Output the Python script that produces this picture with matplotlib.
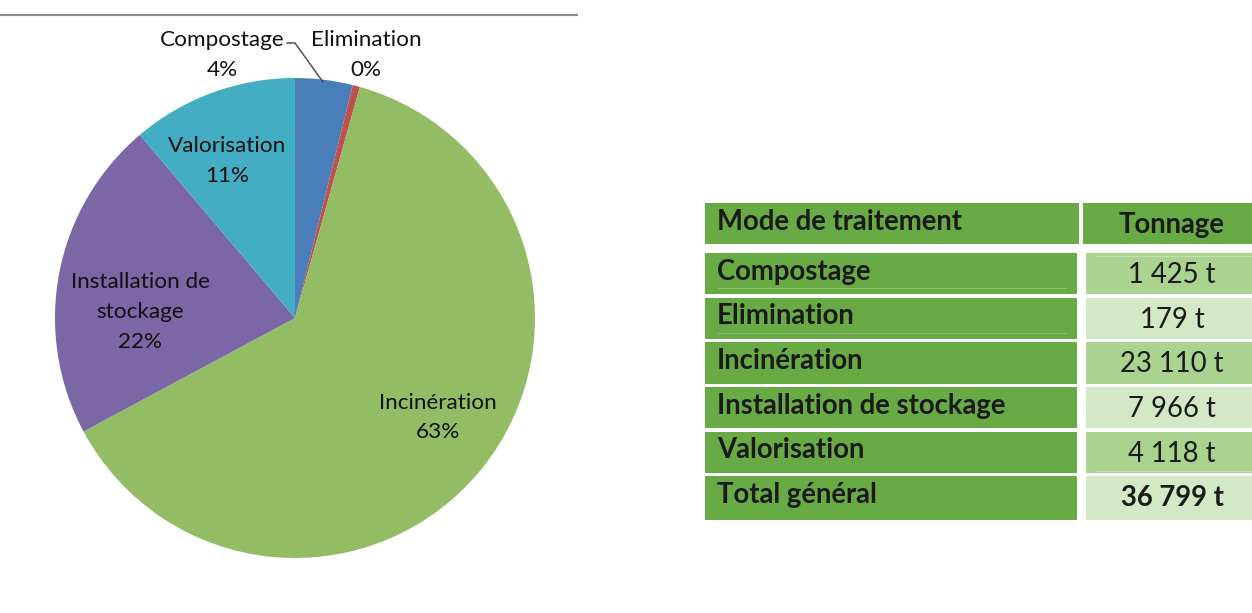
import matplotlib
matplotlib.use('Agg')
import matplotlib.pyplot as plt
from matplotlib.patches import Rectangle

plt.rcParams['font.family'] = ['Lato', 'DejaVu Sans']

# data
modes = ['Compostage', 'Elimination', 'Incinération', 'Installation de stockage', 'Valorisation']
tonnage = [1425, 179, 23110, 7966, 4118]
total = 36799
pie_labels = ['Compostage', 'Elimination', 'Incinération', 'Installation de\nstockage', 'Valorisation']
table_header = ['Mode de traitement', 'Tonnage']
total_label = 'Total général'

pie_colors = ['#4a7ebb', '#c0504d', '#93bd65', '#7b66a6', '#42adc3']
W, H = 1252, 613


def fmt_t(v):
    return '{:,}'.format(v).replace(',', ' ') + ' t'


fig = plt.figure(figsize=(W / 100, H / 100), dpi=100)

# pie, center (295, 318) px, radius 240 px
cx, cy, r = 295, 318, 240
pax = fig.add_axes([(cx - r) / W, (H - cy - r) / H, 2 * r / W, 2 * r / H])
pax.pie(tonnage, colors=pie_colors, startangle=90, counterclock=False, radius=1,
        wedgeprops=dict(linewidth=0))
pax.set_xlim(-1, 1)
pax.set_ylim(-1, 1)
pax.set_aspect('equal')
pax.axis('off')

# overlay in pixel coords
ax = fig.add_axes([0, 0, 1, 1], zorder=5)
ax.set_xlim(0, W)
ax.set_ylim(H, 0)
ax.axis('off')
ax.patch.set_alpha(0)

# top rule
ax.plot([0, 578], [15, 15], color='#8c8c8c', lw=1.6, solid_capstyle='butt')

# pie labels
shares = [round(100 * v / sum(tonnage)) for v in tonnage]
label_pos = [(222, 46), (366, 46), (438, 409), (140, 318), (227, 152)]
for lab, pct, (x, y) in zip(pie_labels, shares, label_pos):
    lines = lab.split('\n') + ['{}%'.format(pct)]
    y0 = y - 29.5 * (len(lines) - 2)
    for i, ln in enumerate(lines):
        ax.text(x, y0 + 29.5 * i, ln, ha='center', va='baseline', fontsize=16.2, color='#111111')

# leader line for Compostage
ax.plot([287, 295, 323], [43, 43, 82], color='#444444', lw=1)

# table
hdr_green = '#68aa44'
light_a = '#a9d38e'
light_b = '#d3e8c5'
fs = 19.8

ax.add_patch(Rectangle((705, 203), 1079 - 705, 41, color=hdr_green, lw=0))
ax.add_patch(Rectangle((1083, 203), W - 1083, 41, color=hdr_green, lw=0))
ax.text(717, 230, table_header[0], fontsize=fs, fontweight='bold', va='baseline', color='#1a1a1a')
ax.text(1172, 233, table_header[1], fontsize=fs, fontweight='bold', va='baseline', ha='center',
        color='#1a1a1a')

row_tops = [253, 297.5, 342, 387, 431.5, 476]
row_h = [41, 41.5, 42, 41, 41, 44]
rows = list(zip(modes, tonnage)) + [(total_label, total)]
for i, ((name, val), top, h) in enumerate(zip(rows, row_tops, row_h)):
    ax.add_patch(Rectangle((705, top), 1077 - 705, h, color=hdr_green, lw=0))
    ax.add_patch(Rectangle((1086, top), W - 1086, h, color=light_a if i % 2 == 0 else light_b, lw=0))
    bold = i == len(rows) - 1
    ax.text(717, top + 27, name, fontsize=fs, fontweight='bold', va='baseline', color='#1a1a1a')
    ax.text(1172, top + 30, fmt_t(val), fontsize=fs, fontweight='bold' if bold else 'normal',
            va='baseline', ha='center', color='#1a1a1a')

# faint cell rules
ax.plot([718, 1066], [288, 288], color='#8cc06a', lw=0.8)
ax.plot([718, 1066], [333, 333], color='#8cc06a', lw=0.8)
ax.plot([1096, W], [256, 256], color='#c4e2b0', lw=0.8)
ax.plot([1096, W], [471, 471], color='#c4e2b0', lw=0.8)

fig.savefig('out.png', dpi=100, facecolor='white')
